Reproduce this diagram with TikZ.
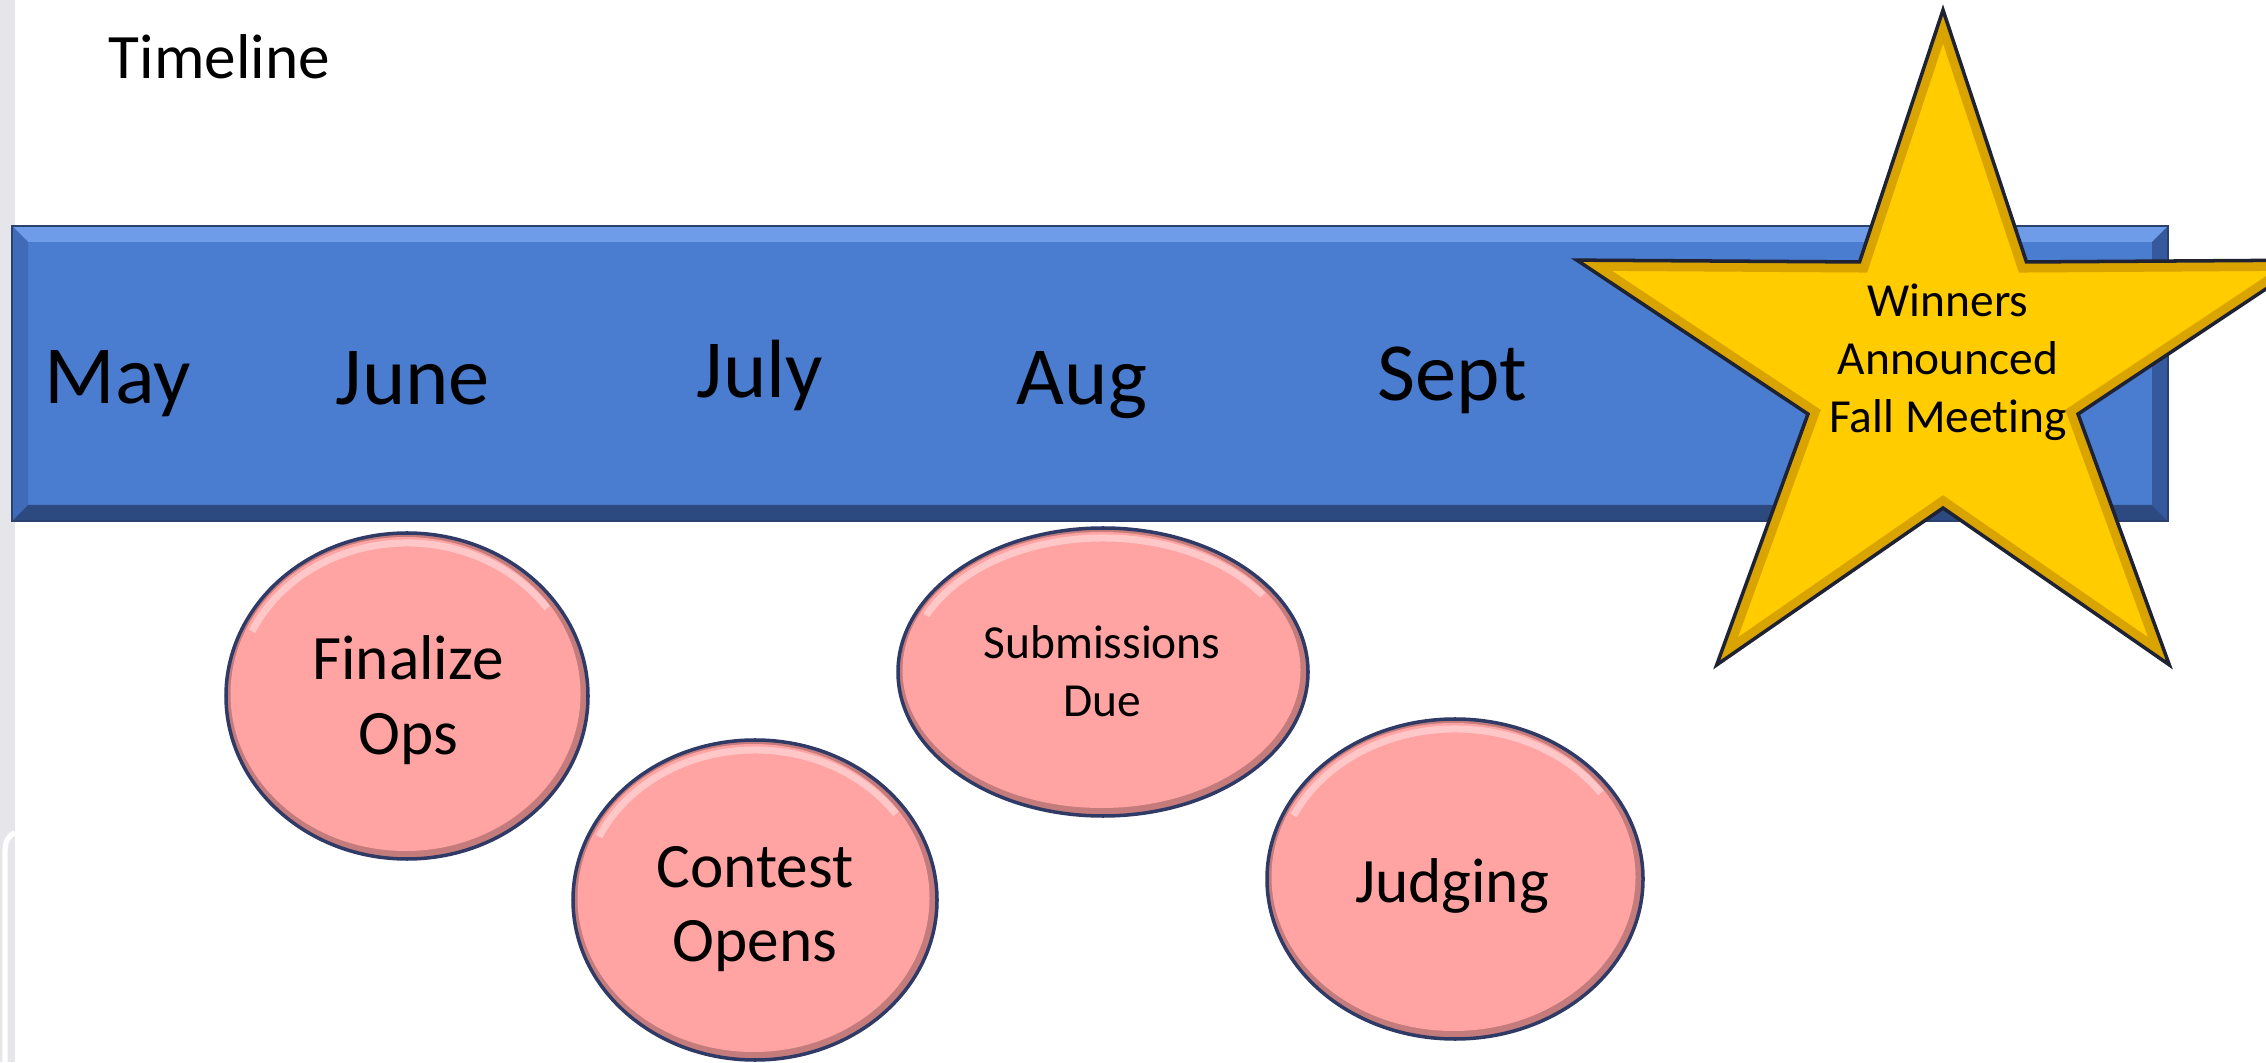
\documentclass[tikz,border=0pt]{standalone}
\usepackage{fontspec}
\setmainfont{Carlito}[Ligatures={NoCommon}]

\definecolor{stripgrey}{HTML}{E6E6EA}
\definecolor{barblue}{HTML}{4A7DCF}
\definecolor{barlight}{HTML}{6E9CE8}
\definecolor{barleft}{HTML}{3F6BB9}
\definecolor{barright}{HTML}{36599E}
\definecolor{bardark}{HTML}{2C4A80}
\definecolor{barline}{HTML}{2B4270}
\definecolor{evpink}{HTML}{FFA3A3}
\definecolor{evshade}{HTML}{C47B7B}
\definecolor{evline}{HTML}{2F3B66}
\definecolor{stargold}{HTML}{FFCC00}
\definecolor{starband}{HTML}{D9A300}
\definecolor{starline}{HTML}{1E2233}

\tikzset{
  month/.style={anchor=base, inner sep=0pt, font=\fontsize{23.5}{28}\selectfont},
  evtext/.style={align=center, inner sep=0pt, font=\fontsize{18}{21.3}\selectfont},
  smalltext/.style={align=center, inner sep=0pt, font=\fontsize{13.5}{16.5}\selectfont},
}

\begin{document}
\begin{tikzpicture}
        \useasboundingbox (0,0) rectangle (22.66,10.62);
        \clip (0,0) rectangle (22.66,10.62);
        % grey strip at the left edge
        \fill[stripgrey] (0,0) rectangle (0.15,10.62);
        \draw[white, line width=1.5pt] (0.05,0) -- (0.05,1.98) to[out=90,in=200] (0.15,2.29);

        \node[anchor=base west, inner sep=0pt, font=\fontsize{18}{22}\selectfont] (title) at (1.08,9.83) {Timeline};

        % the bar, with its bevel
        \fill[barblue] (0.12,5.41) rectangle (21.68,8.36);
        \fill[barlight] (0.12,8.36) -- (21.68,8.36) -- (21.52,8.20) -- (0.28,8.20) -- cycle;
        \fill[bardark] (0.12,5.41) -- (21.68,5.41) -- (21.52,5.57) -- (0.28,5.57) -- cycle;
        \fill[barleft] (0.12,5.41) -- (0.28,5.57) -- (0.28,8.20) -- (0.12,8.36) -- cycle;
        \fill[barright] (21.68,5.41) -- (21.52,5.57) -- (21.52,8.20) -- (21.68,8.36) -- cycle;
        \draw[barline, line width=0.8pt] (0.12,5.41) rectangle (21.68,8.36);

        \node[month] (may) at (1.18,6.58) {May};
        \node[month] (june) at (4.13,6.57) {June};
        \node[month] (july) at (7.60,6.64) {July};
        \node[month] (aug) at (10.82,6.57) {Aug};
        \node[month] (sept) at (14.52,6.61) {Sept};

        % events
        \foreach \x/\y/\rx/\ry in {4.07/3.66/1.81/1.63, 7.55/1.62/1.82/1.60, 11.03/3.90/2.05/1.44, 14.55/1.83/1.88/1.60}{
          \fill[evshade] (\x,\y) ellipse ({\rx} and {\ry});
          \fill[evpink] (\x-0.015,\y+0.02) ellipse ({\rx-0.06} and {\ry-0.06});
          \draw[white, opacity=0.4, line width=2pt] ([shift={(\x,\y)}]155:{\rx-0.1} and {\ry-0.1}) arc[start angle=155, end angle=35, x radius={\rx-0.1}, y radius={\ry-0.1}];
          \draw[evline, line width=1pt] (\x,\y) ellipse ({\rx} and {\ry});
        }
        \node[evtext] (finalize) at (4.08,3.62) {Finalize\\Ops};
        \node[evtext] (contest) at (7.55,1.53) {Contest\\Opens};
        \node[smalltext] (submit) at (11.02,3.91) {Submissions\\Due};
        \node[month, font=\fontsize{18}{21.3}\selectfont] (judging) at (14.52,1.60) {Judging};

        % the star
        \foreach \i in {0,...,9}{
          \pgfmathsetmacro{\ang}{90+36*\i}
          \pgfmathsetmacro{\rx}{mod(\i,2)==0 ? 3.85 : 1.42}
          \pgfmathsetmacro{\ry}{mod(\i,2)==0 ? 3.62 : 1.36}
          \coordinate (s\i) at ([shift={(19.43,6.90)}]\ang:{\rx} and {\ry});
        }
        \fill[stargold] (s0) -- (s1) -- (s2) -- (s3) -- (s4) -- (s5) -- (s6) -- (s7) -- (s8) -- (s9) -- cycle;
        \begin{scope}
          \clip (s0) -- (s1) -- (s2) -- (s3) -- (s4) -- (s5) -- (s6) -- (s7) -- (s8) -- (s9) -- cycle;
          \draw[starband, line width=6pt, line join=miter] (s0) -- (s1) -- (s2) -- (s3) -- (s4) -- (s5) -- (s6) -- (s7) -- (s8) -- (s9) -- cycle;
        \end{scope}
        \draw[starline, line width=1pt] (s0) -- (s1) -- (s2) -- (s3) -- (s4) -- (s5) -- (s6) -- (s7) -- (s8) -- (s9) -- cycle;
        \node[smalltext] (winners) at (19.48,7.00) {Winners\\Announced\\Fall Meeting};
    \end{tikzpicture}
\end{document}
